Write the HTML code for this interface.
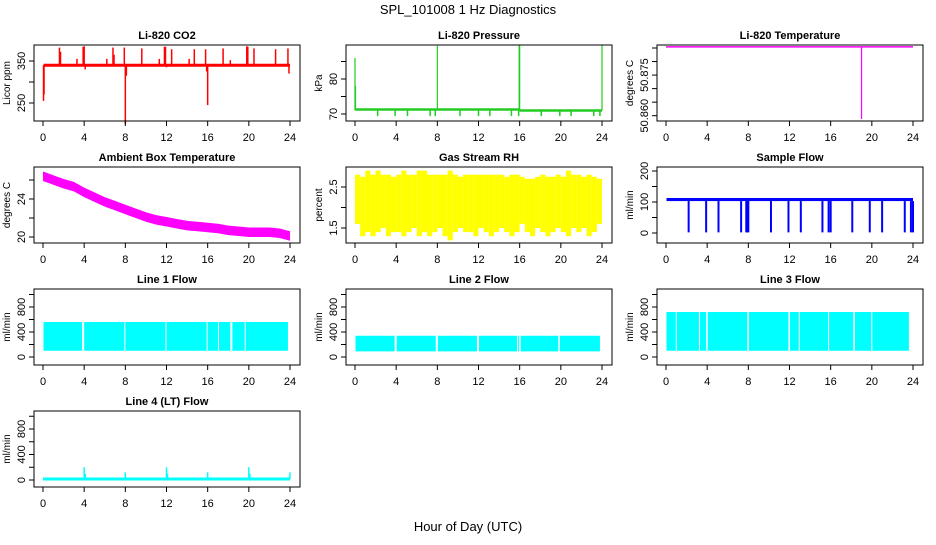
<!DOCTYPE html>
<html><head><meta charset="utf-8">
<style>
html,body{margin:0;padding:0;background:#fff;}
svg text{font-family:"Liberation Sans",Arial,sans-serif;fill:#000;}
</style></head>
<body>
<svg id="chart" width="936" height="540" viewBox="0 0 936 540" xmlns="http://www.w3.org/2000/svg">
<text x="468" y="14" font-size="13" text-anchor="middle">SPL_101008  1 Hz Diagnostics</text>
<text x="468" y="531" font-size="13" text-anchor="middle">Hour of Day (UTC)</text>
</svg>
<script>
// ---- data ----
const xTicks = [0,4,8,12,16,20,24];
const co2Base = 340;
const co2SpikeHours = [0.05,0.1,1.6,1.7,3.3,3.9,4.0,4.1,6.2,6.8,6.9,7.9,8.0,8.1,9.6,11.3,11.8,11.9,12.0,12.5,14.2,14.7,15.8,15.9,16.0,17.5,18.2,19.8,19.9,20.5,22.6,23.8,23.9];
const co2SpikeValues = [255,270,382,372,355,384,385,330,355,382,365,382,200,315,380,355,384,384,335,378,355,378,378,325,245,380,352,385,384,380,378,380,320];
const presBase1 = 71.3, presBase2 = 71.0;
const presDipHours = [2.2,3.9,5.1,7.3,7.8,10.2,12.0,13.1,15.2,15.9,18.1,19.9,21.0,23.2,23.8];
const presDipValue = 69.4;
const presSpikeHours = [0.0,0.05,8.0,15.95,16.0,24.0];
const presSpikeValues = [86,78,89.5,89.7,89.7,89.8];
const tempBase = 50.8854;
const tempSpikeHours = [19.0];
const tempSpikeValues = [50.8588];
const ambHours = [0,1,2,3,4,5,6,7,8,9,10,11,12,13,14,15,16,17,18,19,20,21,22,23,24];
const ambCenter = [26.4,26.0,25.6,25.3,24.7,24.2,23.7,23.3,22.9,22.5,22.1,21.8,21.6,21.4,21.2,21.1,21.0,20.9,20.7,20.6,20.5,20.5,20.5,20.4,20.1];
const rhLows = [1.6,1.3,1.4,1.3,1.4,1.5,1.3,1.4,1.4,1.3,1.4,1.5,1.3,1.4,1.3,1.4,1.5,1.3,1.2,1.4,1.5,1.4,1.4,1.3,1.5,1.4,1.3,1.4,1.5,1.4,1.3,1.4,1.6,1.4,1.3,1.5,1.4,1.3,1.4,1.5,1.4,1.3,1.5,1.4,1.5,1.3,1.4,1.6];
const rhHighs = [2.8,2.75,2.9,2.8,2.9,2.8,2.8,2.75,2.8,2.9,2.8,2.8,2.9,2.9,2.8,2.8,2.8,2.8,2.9,2.8,2.75,2.8,2.8,2.8,2.8,2.8,2.8,2.8,2.8,2.75,2.8,2.8,2.75,2.7,2.7,2.75,2.8,2.75,2.75,2.8,2.75,2.9,2.8,2.8,2.75,2.8,2.75,2.7];
const sfLow = 103, sfHigh = 113;
const sfDipHours = [2.2,3.9,5.1,7.3,7.8,7.9,8.0,10.2,11.9,13.1,15.2,15.8,16.0,18.1,19.8,21.0,23.2,23.8,24.0];
const sfDipValue = 2;
const l1Starts = [0.05,4.0,8.0,12.0,16.0,17.1,18.4,19.7];
const l1Ends = [3.8,7.9,11.9,15.9,17.0,18.2,19.6,23.8];
const l1Low = 100, l1High = 560;
const l2Starts = [0.05,4.05,8.05,12.05,15.85,16.1,19.9];
const l2Ends = [3.85,7.85,11.85,15.75,15.95,19.75,23.8];
const l2Low = 90, l2High = 340;
const l3Starts = [0.05,1.05,3.3,4.05,8.05,12.05,13.0,15.85,18.35,20.05];
const l3Ends = [0.95,3.2,3.9,7.9,11.9,12.9,15.75,18.2,19.95,23.6];
const l3Low = 100, l3High = 720;
const l4Base = 15;
const l4SpikeHours = [4.0,4.1,8.0,12.0,12.1,16.0,20.0,20.1,24.0];
const l4SpikeValues = [200,100,120,200,100,120,200,100,120];

// ---- layout ----
const NS = "http://www.w3.org/2000/svg";
const svg = document.getElementById('chart');
const colLeft = [34,346,657], rowTop = [45,167,289,411], BW = 266, BH = 76;
function mk(tag, attrs, parent){
  const e = document.createElementNS(NS, tag);
  for (const k in attrs) e.setAttribute(k, attrs[k]);
  (parent||svg).appendChild(e);
  return e;
}
function panel(col,row,title,ylab,v1,p1,v2,p2,yt,ylabels,name){
  const L = colLeft[col], T = rowTop[row];
  const g = mk('g',{});
  
  
  const X = h => L + 9 + h/24*247;
  const Y = v => T + p1 + (v - v1)/(v2 - v1)*(p2 - p1);
  const data = mk('g',{},g);
  
  
  const box = mk('rect',{x:L,y:T,width:BW,height:BH,fill:'none',stroke:'#000','stroke-width':1},g);
  
  
  const t = mk('text',{x:L+BW/2,y:T-6,'font-size':11,'font-weight':'bold','text-anchor':'middle'},g);
  t.textContent = title;
  
  
  const xa = mk('g',{},g);
  
  
  xTicks.forEach(h=>{
    mk('line',{x1:X(h),x2:X(h),y1:T+BH,y2:T+BH+5,stroke:'#000'},xa);
    const tl = mk('text',{x:X(h),y:T+BH+20,'font-size':11,'text-anchor':'middle'},xa);
    tl.textContent = h;
    
    
  });
  const ya = mk('g',{},g);
  
  
  yt.forEach(v=>{
    mk('line',{x1:L-5,x2:L,y1:Y(v),y2:Y(v),stroke:'#000'},ya);
  });
  ylabels.forEach(v=>{
    const tl = mk('text',{x:0,y:0,'font-size':11,'text-anchor':'middle',transform:`translate(${L-9},${Y(v)}) rotate(-90)`},ya);
    tl.textContent = v;
    
    
  });
  const yl = mk('text',{x:0,y:0,'font-size':10,'text-anchor':'middle',transform:`translate(${L-24},${T+BH/2}) rotate(-90)`},g);
  yl.textContent = ylab;
  
  
  return {X,Y,g:data};
}
function vline(p,h,a,b,color,w){ mk('line',{x1:p.X(h),x2:p.X(h),y1:p.Y(a),y2:p.Y(b),stroke:color,'stroke-width':w||1.3},p.g); }
function hline(p,h1,h2,v,color,w){ mk('line',{x1:p.X(h1),x2:p.X(h2),y1:p.Y(v),y2:p.Y(v),stroke:color,'stroke-width':w||3},p.g); }
function band(p,h1,h2,lo,hi,color){
  const y1=p.Y(hi), y2=p.Y(lo);
  mk('rect',{x:p.X(h1),y:Math.min(y1,y2),width:p.X(h2)-p.X(h1),height:Math.abs(y2-y1),fill:color},p.g);
}

// CO2
let p = panel(0,0,'Li-820 CO2','Licor ppm',350,16,250,58,[250,300,350],[250,350],'co2');
hline(p,0.05,24,co2Base,'#ff0000',3);
co2SpikeHours.forEach((h,i)=>vline(p,h,co2Base,co2SpikeValues[i],'#ff0000',1.5));

// Pressure
p = panel(1,0,'Li-820 Pressure','kPa',80,34,70,69,[70,75,80,85],[70,80],'pressure');
hline(p,0.05,16,presBase1,'#22cc22',2.5);
hline(p,16,24,presBase2,'#22cc22',2.5);
presDipHours.forEach(h=>vline(p,h,presBase2,presDipValue,'#22cc22',1.5));
presSpikeHours.forEach((h,i)=>vline(p,h,presBase2,presSpikeValues[i],'#22cc22',1.2));

// Li-820 Temperature
p = panel(2,0,'Li-820 Temperature','degrees C',50.860,70.7,50.885,3,[50.860,50.865,50.870,50.875,50.880,50.885],['50.860','50.875'],'li820-temp');
hline(p,0,24,tempBase,'#ff00ff',1.5);
tempSpikeHours.forEach((h,i)=>vline(p,h,tempBase,tempSpikeValues[i],'#ff00ff',1.2));

// Ambient box temperature
p = panel(0,1,'Ambient Box Temperature','degrees C',24,32,20,70,[20,22,24,26],[20,24],'ambient-temp');
{
  let pts = ambHours.map((h,i)=>`${p.X(h)},${p.Y(ambCenter[i]+0.5)}`);
  let pts2 = ambHours.map((h,i)=>`${p.X(h)},${p.Y(ambCenter[i]-0.5)}`).reverse();
  mk('polygon',{points:pts.concat(pts2).join(' '),fill:'#ff00ff'},p.g);
}

// Gas stream RH
p = panel(1,1,'Gas Stream RH','percent',2.5,20,1.5,61,[1.5,2.0,2.5],['1.5','2.5'],'gas-rh');
rhLows.forEach((lo,i)=>band(p,i*0.5,i*0.5+0.5,lo,rhHighs[i],'#ffff00'));

// Sample flow
p = panel(2,1,'Sample Flow','ml/min',200,4,0,66,[0,50,100,150,200],[0,100,200],'sample-flow');
band(p,0.05,24,sfLow,sfHigh,'#0000ff');
sfDipHours.forEach(h=>vline(p,h,sfLow,sfDipValue,'#0000ff',2));

// Line flows
const fTicks=[0,200,400,600,800,1000], fLabels=[0,400,800];
p = panel(0,2,'Line 1 Flow','ml/min',800,18,0,68,fTicks,fLabels,'line1-flow');
l1Starts.forEach((s,i)=>band(p,s,l1Ends[i],l1Low,l1High,'#00ffff'));
p = panel(1,2,'Line 2 Flow','ml/min',800,18,0,68,fTicks,fLabels,'line2-flow');
l2Starts.forEach((s,i)=>band(p,s,l2Ends[i],l2Low,l2High,'#00ffff'));
p = panel(2,2,'Line 3 Flow','ml/min',800,18,0,68,fTicks,fLabels,'line3-flow');
l3Starts.forEach((s,i)=>band(p,s,l3Ends[i],l3Low,l3High,'#00ffff'));
p = panel(0,3,'Line 4 (LT) Flow','ml/min',800,18,0,69,fTicks,fLabels,'line4-flow');
hline(p,0,24,l4Base,'#00ffff',3);
l4SpikeHours.forEach((h,i)=>vline(p,h,l4Base,l4SpikeValues[i],'#00ffff',1.5));
</script>
</body></html>
